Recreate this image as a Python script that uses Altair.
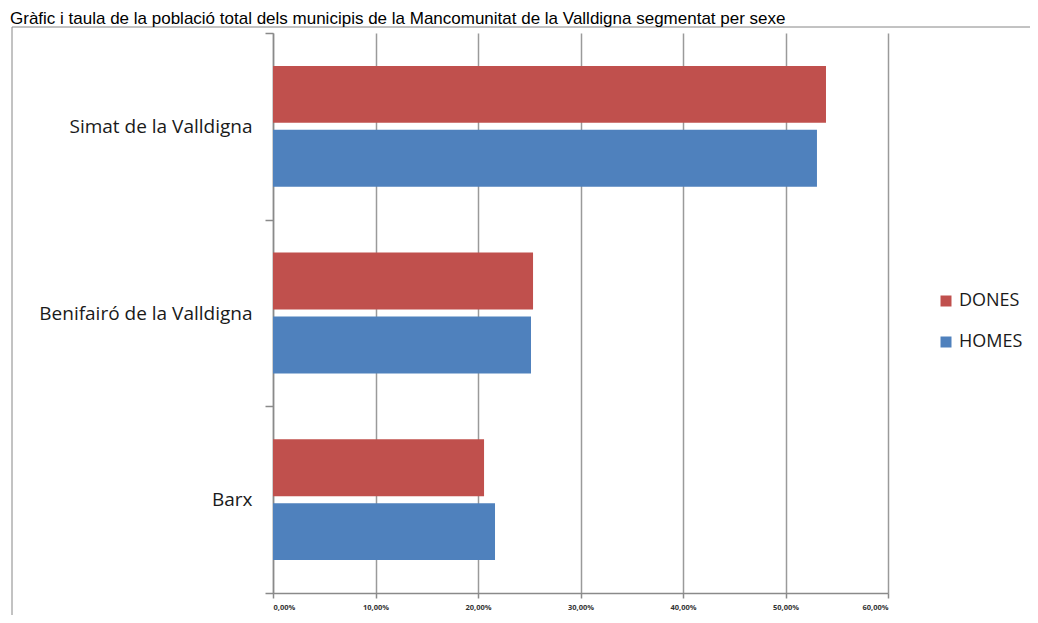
import altair as alt
import pandas as pd

# ---- data ----
municipis = ["Simat de la Valldigna", "Benifairó de la Valldigna", "Barx"]
sexes = ["DONES", "HOMES"]
dones = [53.95, 25.37, 20.59]
homes = [53.07, 25.17, 21.66]
x_ticks = [0, 10, 20, 30, 40, 50, 60]
colors = ["#C0504D", "#4F81BD"]
title_text = ("Gràfic i taula de la població total dels municipis de la "
              "Mancomunitat de la Valldigna segmentat per sexe")

rows = []
for m, d, h in zip(municipis, dones, homes):
    rows.append({"Municipi": m, "Sexe": "DONES", "Valor": d})
    rows.append({"Municipi": m, "Sexe": "HOMES", "Valor": h})
df = pd.DataFrame(rows)

frame_df = pd.DataFrame({"k": [0]})

border = alt.Chart(frame_df).mark_rect(
    filled=False, stroke="#868686", strokeWidth=1
).encode(
    x=alt.value(-261), x2=alt.value(1000),
    y=alt.value(-6), y2=alt.value(900),
)

title = alt.Chart(frame_df).mark_text(
    align="left", baseline="alphabetic",
    font="Liberation Sans", fontSize=17, color="#000000",
).encode(
    x=alt.value(-263), y=alt.value(-9), text=alt.value(title_text),
)

bars = alt.Chart(df).mark_bar().encode(
    x=alt.X(
        "Valor:Q",
        scale=alt.Scale(domain=[0, 60], nice=False),
        axis=alt.Axis(
            values=x_ticks,
            labelExpr="replace(format(datum.value, '.2f'), '.', ',') + '%'",
            title=None,
            grid=True,
            gridColor="#9a9a9a",
            gridWidth=1.5,
            domainColor="#8a8a8a",
            domainWidth=1.5,
            tickColor="#8a8a8a",
            tickWidth=1.5,
            tickSize=5,
            labelFont="Open Sans",
            labelFontSize=7.5,
            labelFontWeight="bold",
            labelColor="#333333",
            labelPadding=5,
        ),
    ),
    y=alt.Y(
        "Municipi:N",
        sort=municipis,
        scale=alt.Scale(paddingInner=0, paddingOuter=0),
        axis=alt.Axis(
            title=None,
            tickBand="extent",
            grid=False,
            domainColor="#8a8a8a",
            domainWidth=1.5,
            tickColor="#8a8a8a",
            tickWidth=1.5,
            tickSize=8,
            labelFont="Open Sans",
            labelFontSize=19,
            labelColor="#1a1a1a",
            labelPadding=13,
            labelLimit=400,
        ),
    ),
    yOffset=alt.YOffset(
        "Sexe:N", sort=sexes,
        scale=alt.Scale(paddingInner=0.109, paddingOuter=0.516),
    ),
    color=alt.Color(
        "Sexe:N",
        sort=sexes,
        scale=alt.Scale(domain=sexes, range=colors),
        legend=alt.Legend(
            title=None,
            orient="none",
            legendX=664,
            legendY=259,
            symbolType="square",
            symbolSize=121,
            symbolStrokeWidth=0,
            labelFont="Open Sans",
            labelFontSize=18,
            labelColor="#1a1a1a",
            labelOffset=4,
            rowPadding=23,
            padding=0,
        ),
    ),
)

chart = alt.layer(border, title, bars).properties(
    width=615,
    height=560,
    padding={"left": 265, "top": 25, "right": 142, "bottom": 22},
    autosize=alt.AutoSizeParams(type="none"),
).configure_view(stroke=None)

chart.save("out.html", embed_options={"renderer": "svg", "actions": False})
